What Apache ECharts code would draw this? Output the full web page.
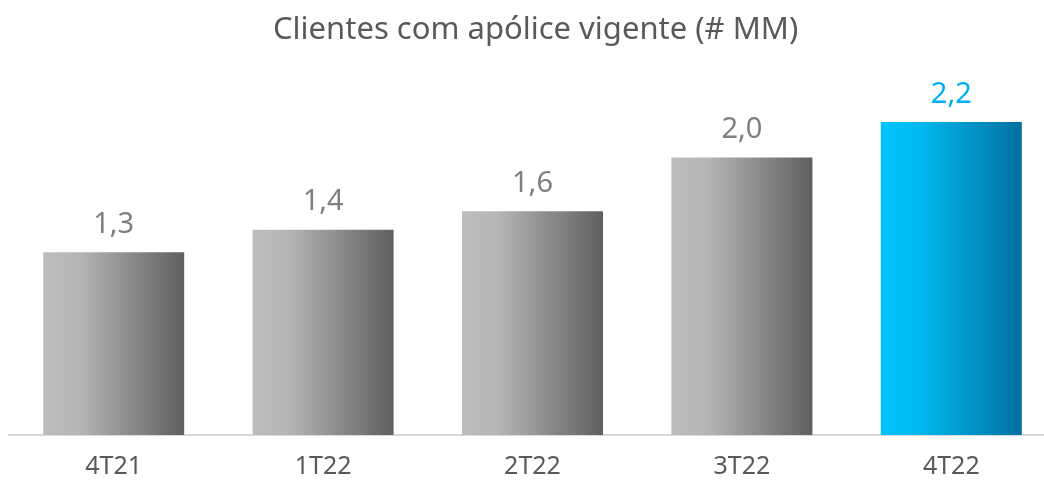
<!DOCTYPE html>
<html>
<head>
<meta charset="utf-8">
<script src="https://cdn.jsdelivr.net/npm/echarts@6/dist/echarts.min.js"></script>
<style>
  html, body { margin: 0; padding: 0; background: #fff; }
  #chart { width: 1044px; height: 482px; }
</style>
</head>
<body>
<div id="chart"></div>
<script>
const categories = ['4T21', '1T22', '2T22', '3T22', '4T22']
const values = [1.29, 1.45, 1.58, 1.96, 2.21]
const labels = ['1,3', '1,4', '1,6', '2,0', '2,2']

const greyGrad = new echarts.graphic.LinearGradient(0, 0, 1, 0, [
  { offset: 0, color: '#bdbdbd' },
  { offset: 0.25, color: '#b6b6b6' },
  { offset: 1, color: '#5f5f5f' }
])
const blueGrad = new echarts.graphic.LinearGradient(0, 0, 1, 0, [
  { offset: 0, color: '#00c3ff' },
  { offset: 0.25, color: '#00bbf2' },
  { offset: 1, color: '#0070a0' }
])

const chart = echarts.init(document.getElementById('chart'))
chart.setOption({
  backgroundColor: '#ffffff',
  animation: false,
  title: {
    text: 'Clientes com apólice vigente (# MM)',
    left: 268,
    top: 10,
    textStyle: {
      fontFamily: 'Noto Sans',
      fontWeight: 'normal',
      fontSize: 31,
      color: '#595959'
    }
  },
  grid: {
    left: 9,
    width: 1047,
    top: 81,
    bottom: 47,
    outerBoundsMode: 'none',
    containLabel: false
  },
  xAxis: {
    type: 'category',
    data: categories,
    axisTick: { show: false },
    axisLine: {
      lineStyle: { color: '#d9d9d9', width: 2 }
    },
    axisLabel: {
      margin: 19,
      fontFamily: 'Noto Sans',
      fontSize: 25,
      color: '#595959'
    }
  },
  yAxis: {
    type: 'value',
    min: 0,
    max: 2.5,
    show: false,
    splitLine: { show: false }
  },
  series: [{
    type: 'bar',
    barWidth: 141,
    data: values.map((v, i) => ({
      value: v,
      itemStyle: { color: i === values.length - 1 ? blueGrad : greyGrad },
      label: { color: i === values.length - 1 ? '#00b0f0' : '#7f7f7f' }
    })),
    label: {
      show: true,
      position: 'top',
      distance: 13,
      fontFamily: 'Noto Sans',
      fontSize: 29,
      formatter: p => labels[p.dataIndex]
    }
  }]
})
</script>
</body>
</html>
